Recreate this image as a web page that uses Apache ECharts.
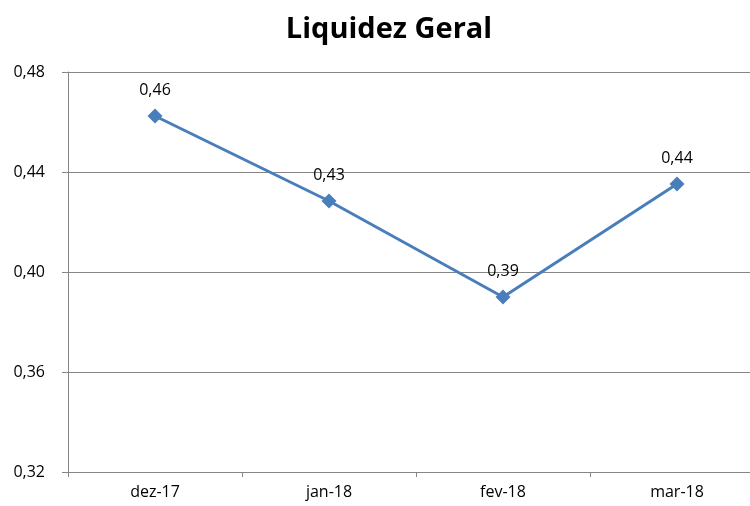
<!DOCTYPE html>
<html><head><meta charset="utf-8">
<script src="https://cdn.jsdelivr.net/npm/echarts@6/dist/echarts.min.js"></script>
<style>html,body{margin:0;padding:0;background:#fff;overflow:hidden;width:750px;height:506px}#c{width:768px;height:506px}</style>
</head><body><div id="c"></div>
<script>
var categories = ['dez-17', 'jan-18', 'fev-18', 'mar-18'];
var values = [0.4624, 0.4284, 0.390, 0.4352];
var yTicks = { min: 0.32, max: 0.48, interval: 0.04 };
var titleText = 'Liquidez Geral';

var chart = echarts.init(document.getElementById('c'));
var font = '"Open Sans", "Noto Sans", sans-serif';
chart.setOption({
  animation: false,
  title: {
    text: titleText, left: 384, top: 10, textAlign: 'center',
    textStyle: { fontFamily: font, fontSize: 29, fontWeight: 'bold', color: '#000' }
  },
  grid: { left: 68, top: 72, width: 696, height: 400, containLabel: false },
  xAxis: {
    type: 'category', data: categories, boundaryGap: true,
    axisLine: { lineStyle: { color: '#868686', width: 1 } },
    axisTick: { show: true, length: 5, lineStyle: { color: '#868686' } },
    axisLabel: { fontFamily: font, fontSize: 16, color: '#000', margin: 12 }
  },
  yAxis: {
    type: 'value', min: yTicks.min, max: yTicks.max, interval: yTicks.interval,
    axisLine: { show: true, lineStyle: { color: '#868686', width: 1 } },
    axisTick: { show: true, length: 6, lineStyle: { color: '#868686' } },
    splitLine: { lineStyle: { color: '#868686', width: 1 } },
    axisLabel: { fontFamily: font, fontSize: 16, color: '#000', margin: 23,
      formatter: function (v) { return v.toFixed(2).replace('.', ','); } }
  },
  series: [{
    type: 'line', data: values,
    symbol: 'diamond', symbolSize: 15,
    lineStyle: { color: '#4A7EBB', width: 3 },
    itemStyle: { color: '#4A7EBB' },
    label: { show: true, position: 'top', distance: 10, fontFamily: font, fontSize: 16, color: '#000',
      formatter: function (p) { return p.value.toFixed(2).replace('.', ','); } }
  }]
});
</script></body></html>
